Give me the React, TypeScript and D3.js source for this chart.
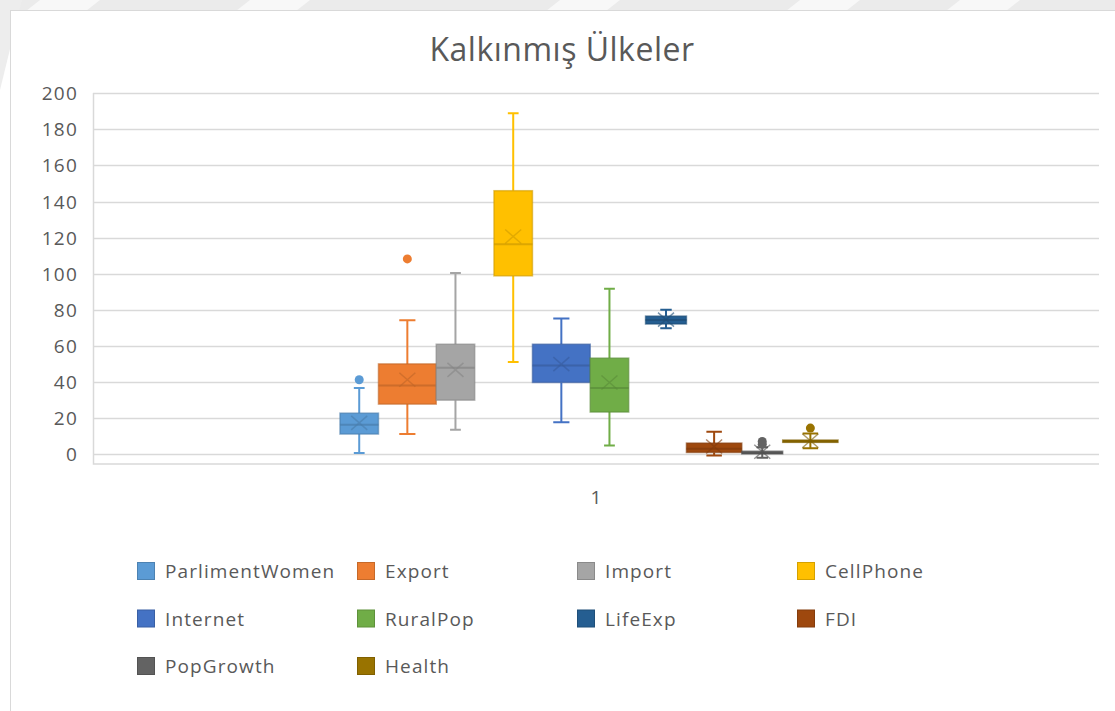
import { useEffect, useRef } from "react";
import * as d3 from "d3";

const title = "Kalkınmış Ülkeler";
const category = "1";

const seriesNames = [
  "ParlimentWomen", "Export", "Import", "CellPhone", "Internet",
  "RuralPop", "LifeExp", "FDI", "PopGrowth", "Health"
];
const whiskerLow = [0.6, 11.2, 13.5, 51.0, 17.7, 4.8, 69.8, -0.8, -2.0, 3.3];
const quartile1 = [11.1, 27.7, 29.9, 98.8, 39.7, 23.3, 72.1, 0.9, 0.1, 6.5];
const medians = [16.2, 38.0, 47.8, 116.3, 49.1, 36.6, 74.3, 3.0, 0.6, 7.0];
const quartile3 = [22.7, 50.0, 60.9, 146.0, 60.9, 53.2, 76.5, 6.1, 1.6, 7.8];
const whiskerHigh = [36.6, 74.2, 100.4, 188.9, 75.1, 91.7, 80.0, 12.4, 3.8, 11.4];
const means = [17.3, 41.2, 46.7, 120.6, 49.9, 39.7, 74.5, 4.2, 1.3, 7.4];
const outliers = [[41.2], [108.2], [], [], [], [], [], [], [5.4, 7.0], [14.4]];

const yTicks = [0, 20, 40, 60, 80, 100, 120, 140, 160, 180, 200];

const colors = [
  "#5B9BD5", "#ED7D31", "#A5A5A5", "#FFC000", "#4472C4",
  "#70AD47", "#255E91", "#9E480E", "#636363", "#997300"
];

export default function App() {
  const ref = useRef<SVGSVGElement>(null);

  useEffect(() => {
    const width = 1115;
    const height = 711;
    const plotLeft = 93;
    const plotRight = 1099;
    const plotTop = 93.3;
    const plotBottom = 464;
    const font = "'Open Sans', sans-serif";
    const textColor = "#595959";

    const svg = d3.select(ref.current);
    svg.selectAll("*").remove();
    svg.attr("width", width).attr("height", height)
      .attr("viewBox", [0, 0, width, height]);

    // page behind the card: grey strip on top with faint diagonal watermark
    svg.append("rect").attr("width", width).attr("height", height).attr("fill", "#fff");
    svg.append("rect").attr("width", width).attr("height", 11).attr("fill", "#ebebeb");
    const stripes = [40, 250, 560, 800, 960];
    svg.append("g").selectAll("path").data(stripes).join("path")
      .attr("d", d => `M${d},0 h60 l-14,11 h-60 Z`)
      .attr("fill", "#f8f8f8");
    svg.append("path")
      .attr("d", "M0,0 h22 l-22,90 Z")
      .attr("fill", "#ededed");
    svg.append("rect")
      .attr("x", 10.5).attr("y", 10.5)
      .attr("width", width).attr("height", height)
      .attr("fill", "#fff").attr("stroke", "#d9d9d9");

    svg.append("text")
      .attr("x", 562).attr("y", 48)
      .attr("text-anchor", "middle").attr("dominant-baseline", "central")
      .attr("font-family", font).attr("font-size", 32)
      .attr("letter-spacing", 0.5)
      .attr("fill", textColor)
      .text(title);

    const y = d3.scaleLinear().domain([-5.5, 200]).range([plotBottom, plotTop]);

    // gridlines
    svg.append("g").selectAll("line").data(yTicks).join("line")
      .attr("x1", plotLeft).attr("x2", plotRight)
      .attr("y1", d => Math.round(y(d)) + 0.5).attr("y2", d => Math.round(y(d)) + 0.5)
      .attr("stroke", "#d9d9d9").attr("stroke-width", 1.5);

    svg.append("path")
      .attr("d", `M${plotLeft + 0.5},${Math.round(y(200))}V${plotBottom}H${plotRight}`)
      .attr("fill", "none").attr("stroke", "#d9d9d9").attr("stroke-width", 1.5);

    svg.append("g").selectAll("text").data(yTicks).join("text")
      .attr("x", 78).attr("y", d => y(d))
      .attr("text-anchor", "end").attr("dominant-baseline", "central")
      .attr("font-family", font).attr("font-size", 19).attr("letter-spacing", 1.2)
      .attr("fill", textColor)
      .text(d => d);

    svg.append("text")
      .attr("x", (plotLeft + plotRight) / 2).attr("y", 497)
      .attr("text-anchor", "middle").attr("dominant-baseline", "central")
      .attr("font-family", font).attr("font-size", 19).attr("fill", textColor)
      .text(category);

    // box slots: relative widths and gaps as Excel lays them out
    const boxWeight = [0.8, 1.2, 0.8, 0.8, 1.2, 0.8, 0.85, 1.15, 0.85, 1.15];
    const gapBefore = [0, 0, 0, 0.4, 0, 0, 0.35, 0, 0, 0];
    const starts: number[] = [];
    let acc = 0;
    boxWeight.forEach((w, i) => { acc += gapBefore[i]; starts.push(acc); acc += w; });
    const plotW = plotRight - plotLeft;
    const x = d3.scaleLinear().domain([0, acc])
      .range([plotLeft + 0.2455 * plotW, plotLeft + 0.7406 * plotW]);

    const boxes = seriesNames.map((name, i) => ({
      name, i,
      x0: x(starts[i]), x1: x(starts[i] + boxWeight[i]),
      lo: whiskerLow[i], q1: quartile1[i], med: medians[i], q3: quartile3[i],
      hi: whiskerHigh[i], mean: means[i], out: outliers[i], color: colors[i]
    }));

    const g = svg.append("g").selectAll("g").data(boxes).join("g");

    g.each(function (d) {
      const s = d3.select(this);
      const cx = (d.x0 + d.x1) / 2;
      const bw = d.x1 - d.x0;
      const cap = bw * 0.14;
      const dark = d3.color(d.color)!.darker(0.6).formatHex();
      // whiskers
      s.append("path")
        .attr("d", `M${cx},${y(d.q3)}V${y(d.hi)}M${cx - cap},${y(d.hi)}H${cx + cap}` +
          `M${cx},${y(d.q1)}V${y(d.lo)}M${cx - cap},${y(d.lo)}H${cx + cap}`)
        .attr("fill", "none").attr("stroke", d.color).attr("stroke-width", 2);
      // box
      s.append("rect")
        .attr("x", d.x0).attr("y", y(d.q3))
        .attr("width", bw).attr("height", Math.max(1, y(d.q1) - y(d.q3)))
        .attr("fill", d.color).attr("stroke", dark).attr("stroke-opacity", 0.6)
        .attr("stroke-width", 1.5);
      // median
      s.append("line")
        .attr("x1", d.x0).attr("x2", d.x1)
        .attr("y1", y(d.med)).attr("y2", y(d.med))
        .attr("stroke", dark).attr("stroke-opacity", 0.7).attr("stroke-width", 2);
      // mean marker
      const my = y(d.mean);
      s.append("path")
        .attr("d", `M${cx - 8},${my - 7}L${cx + 8},${my + 7}M${cx - 8},${my + 7}L${cx + 8},${my - 7}`)
        .attr("stroke", dark).attr("stroke-opacity", 0.6).attr("stroke-width", 1.5);
      // outliers
      s.selectAll("circle").data(d.out).join("circle")
        .attr("cx", cx).attr("cy", v => y(v)).attr("r", 4.5)
        .attr("fill", d.color);
    });

    // legend
    const legend = svg.append("g").selectAll("g").data(boxes).join("g")
      .attr("transform", d => `translate(${137 + (d.i % 4) * 220},${571 + Math.floor(d.i / 4) * 47.5})`);
    legend.append("rect")
      .attr("x", 0.5).attr("y", -8.5).attr("width", 17).attr("height", 17)
      .attr("fill", d => d.color)
      .attr("stroke", d => d3.color(d.color)!.darker(0.5).formatHex());
    legend.append("text")
      .attr("x", 28).attr("y", 0)
      .attr("dominant-baseline", "central")
      .attr("font-family", font).attr("font-size", 19).attr("letter-spacing", 1.1)
      .attr("fill", textColor)
      .text(d => d.name);
  }, []);

  return <svg ref={ref} style={{ position: "absolute", left: 0, top: 0 }}></svg>;
}
